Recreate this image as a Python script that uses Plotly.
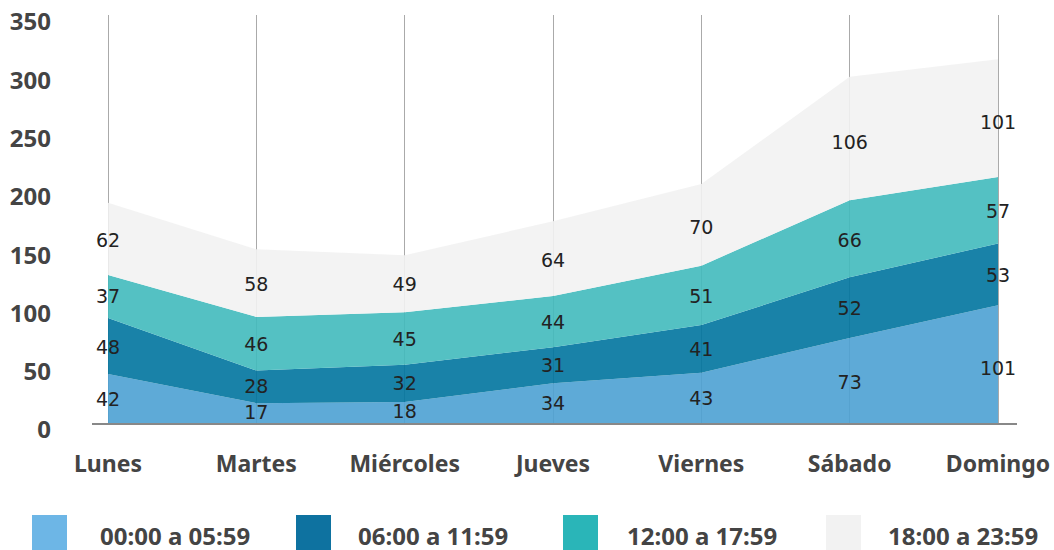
import plotly.graph_objects as go

days = ["Lunes", "Martes", "Miércoles", "Jueves", "Viernes", "Sábado", "Domingo"]
series_names = ["00:00 a 05:59", "06:00 a 11:59", "12:00 a 17:59", "18:00 a 23:59"]
s1 = [42, 17, 18, 34, 43, 73, 101]
s2 = [48, 28, 32, 31, 41, 52, 53]
s3 = [37, 46, 45, 44, 51, 66, 57]
s4 = [62, 58, 49, 64, 70, 106, 101]
y_ticks = [0, 50, 100, 150, 200, 250, 300, 350]

series = [s1, s2, s3, s4]
fill_colors = ["rgba(76,161,211,0.9)", "rgba(0,116,158,0.9)",
               "rgba(65,186,188,0.9)", "rgba(242,242,242,0.9)"]
legend_colors = ["#6db6e6", "#0e72a0", "#2ab5b8", "#f2f2f2"]
LABEL_FRAC = 0.45  # vertical placement of value labels within each band

fig = go.Figure()
for name, vals, fc in zip(series_names, series, fill_colors):
    fig.add_trace(go.Scatter(x=days, y=vals, name=name, stackgroup="one",
                             mode="none", fillcolor=fc, line=dict(width=0),
                             showlegend=False, hoverinfo="skip"))

# data labels inside each band
base = [0] * len(days)
for vals in series:
    mids = [b + v * LABEL_FRAC for b, v in zip(base, vals)]
    fig.add_trace(go.Scatter(x=days, y=mids, mode="text", text=[str(v) for v in vals],
                             textposition="middle center",
                             textfont=dict(family="DejaVu Sans", size=19, color="#222222"),
                             showlegend=False, hoverinfo="skip"))
    base = [b + v for b, v in zip(base, vals)]

L, R, T, B = 92, 37, 15, 127
W, H = 1054, 550
pw, ph = W - L - R, H - T - B

def px_x(p):
    return (p - L) / pw

def px_y(p):
    return (H - B - p) / ph

shapes = []
annotations = []
legend_sq_x = [32, 296, 563, 826]
legend_txt_x = [100, 358, 627, 888]
for i, name in enumerate(series_names):
    shapes.append(dict(type="rect", xref="paper", yref="paper",
                       x0=px_x(legend_sq_x[i]), x1=px_x(legend_sq_x[i] + 35),
                       y0=px_y(550), y1=px_y(515),
                       fillcolor=legend_colors[i], line=dict(width=0)))
    annotations.append(dict(xref="paper", yref="paper", x=px_x(legend_txt_x[i] - 2), y=px_y(535),
                            text="<b>" + name + "</b>", showarrow=False,
                            xanchor="left", yanchor="middle",
                            font=dict(family="Noto Sans", size=24, color="#444444")))

fig.update_layout(
    width=W, height=H,
    margin=dict(l=L, r=R, t=T, b=B, autoexpand=False),
    plot_bgcolor="white", paper_bgcolor="white",
    shapes=shapes, annotations=annotations,
    xaxis=dict(range=[-0.108, 6.128], showgrid=True, gridcolor="#aaaaaa", gridwidth=1,
               showline=True, linecolor="#888888", linewidth=2, ticks="",
               tickvals=days, ticktext=["<b>" + d + "</b>" for d in days],
               tickfont=dict(family="Noto Sans", size=23, color="#444444"),
               ticklabelstandoff=19, zeroline=False, automargin=False),
    yaxis=dict(range=[0, 350], tickvals=y_ticks,
               ticktext=["<b>" + str(v) + "</b>" for v in y_ticks],
               showgrid=False, zeroline=False,
               showline=False, ticks="",
               tickfont=dict(family="Noto Sans", size=24, color="#444444"),
               ticklabelstandoff=40, ticklabelshift=7, automargin=False),
)

fig.write_html("out.html", config={"displayModeBar": False},
               post_script="document.body.style.margin='0';document.body.style.overflow='hidden';")
